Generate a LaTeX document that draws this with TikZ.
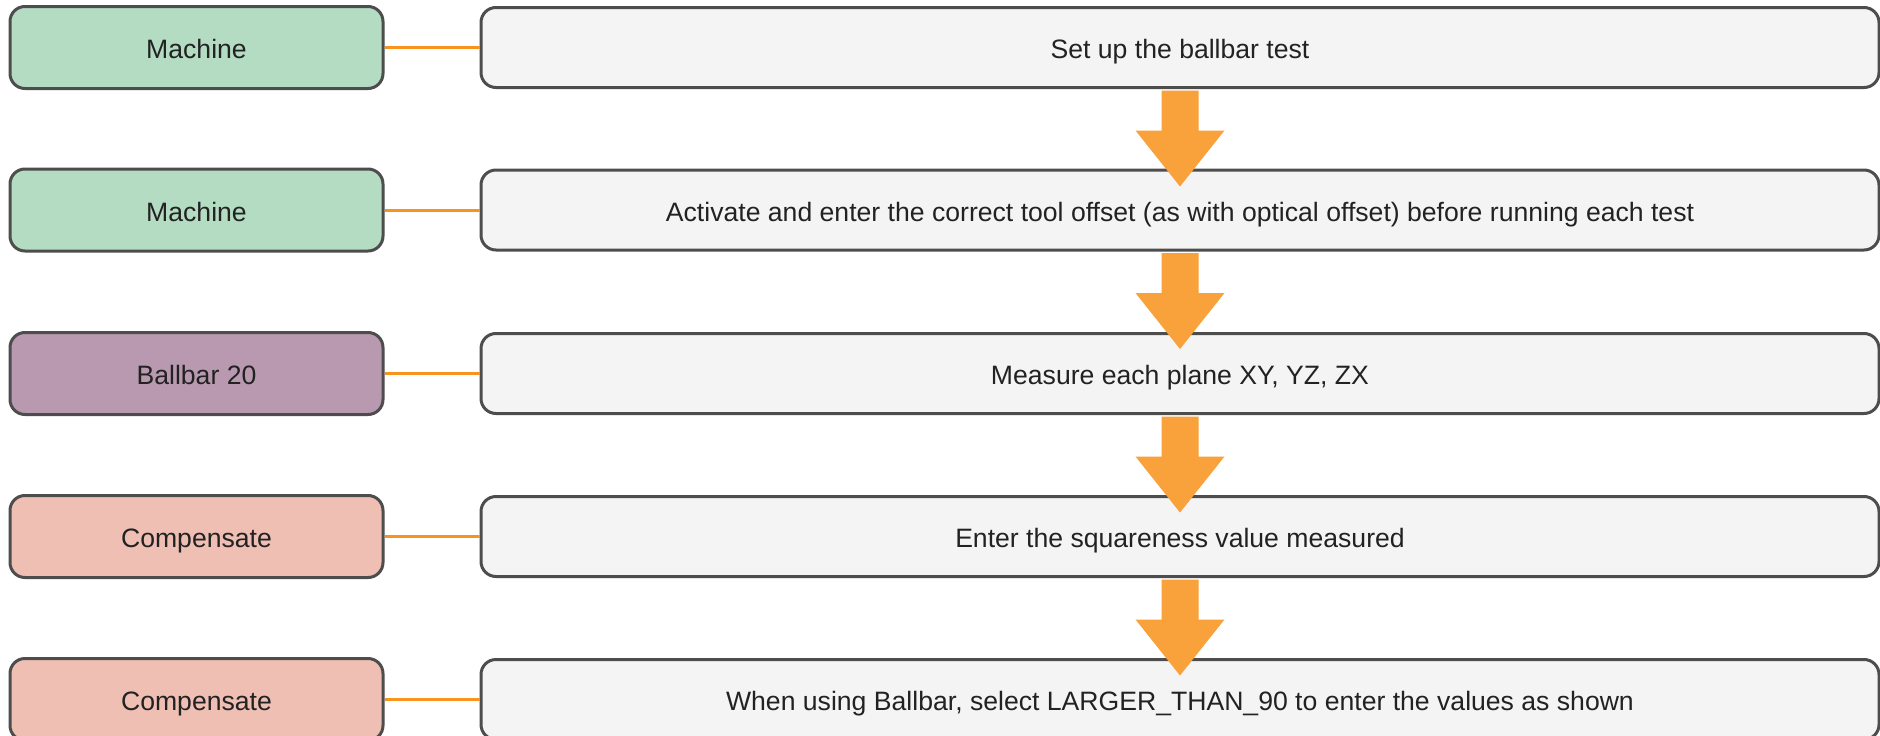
\documentclass[tikz,border=0pt]{standalone}
\usepackage{fontspec}
\setmainfont{Liberation Sans}
\definecolor{bordergray}{HTML}{4D4D4D}
\definecolor{textgray}{HTML}{222222}
\definecolor{greenfill}{HTML}{B3DCC2}
\definecolor{purplefill}{HTML}{B999B0}
\definecolor{salmonfill}{HTML}{EFBFB4}
\definecolor{stepfill}{HTML}{F4F4F4}
\definecolor{connorange}{HTML}{F7931E}
\definecolor{arroworange}{HTML}{F9A13A}
\tikzset{
  basebox/.style={draw=bordergray, line width=3pt, rounded corners=15pt, inner sep=0pt,
    font=\fontsize{26.6}{32}\selectfont, text=textgray, text height=22pt, text depth=0pt},
  lbox/.style={basebox, minimum width=373pt, minimum height=82pt},
  rbox/.style={basebox, fill=stepfill, minimum width=1398pt, minimum height=80pt},
  conn/.style={draw=connorange, line width=3pt},
  flowarrow/.style={fill=arroworange, draw=none},
}
\begin{document}
\begin{tikzpicture}[x=1pt,y=-1pt]
\path[use as bounding box, clip] (0,0) rectangle (1880,736);
\fill[white] (0,0) rectangle (1880,736);
% left boxes
\node[lbox, fill=greenfill]  (l1) at (196.5,47.5) {Machine};
\node[lbox, fill=greenfill]  (l2) at (196.5,210) {Machine};
\node[lbox, fill=purplefill] (l3) at (196.5,373.5) {Ballbar 20};
\node[lbox, fill=salmonfill] (l4) at (196.5,536.5) {Compensate};
\node[lbox, fill=salmonfill] (l5) at (196.5,699.5) {Compensate};
% right boxes
\node[rbox] (r1) at (1180,47.5) {Set up the ballbar test};
\node[rbox] (r2) at (1180,210) {Activate and enter the correct tool offset (as with optical offset) before running each test};
\node[rbox] (r3) at (1180,373.5) {Measure each plane XY, YZ, ZX};
\node[rbox] (r4) at (1180,536.5) {Enter the squareness value measured};
\node[rbox] (r5) at (1180,699.5) {When using Ballbar, select LARGER\_THAN\_90 to enter the values as shown};
% connectors
\foreach \i in {1,...,5} {
  \draw[conn] (l\i.east) -- (r\i.west);
}
% flow arrows
\foreach \i in {1,...,4} {
  \fill[flowarrow] ([xshift=-18.5pt,yshift=-1.5pt]r\i.south) -- ++(0,40) -- ++(-26,0)
    -- ++(44.5,56) -- ++(44.5,-56) -- ++(-26,0) -- ++(0,-40) -- cycle;
}
\end{tikzpicture}
\end{document}
